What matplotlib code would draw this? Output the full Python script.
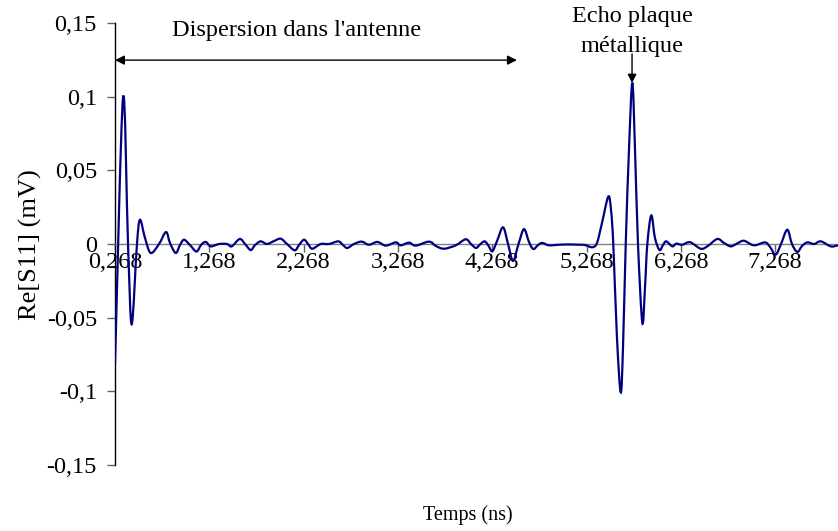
import matplotlib
matplotlib.use("Agg")
import matplotlib.pyplot as plt
from matplotlib.path import Path
from matplotlib.patches import PathPatch

# ---- data ----
time_ns = [0.268, 0.353, 0.406, 0.445, 0.501, 0.533, 0.586, 0.647, 0.735, 0.809,
           0.851, 0.912, 0.957, 1.000, 1.063, 1.132, 1.180, 1.230, 1.283, 1.371,
           1.456, 1.506, 1.590, 1.647, 1.707, 1.753, 1.813, 1.880, 1.954, 2.025,
           2.092, 2.174, 2.219, 2.272, 2.315, 2.360, 2.449, 2.537, 2.636, 2.686,
           2.731, 2.802, 2.884, 2.961, 3.050, 3.139, 3.245, 3.298, 3.386, 3.457,
           3.598, 3.672, 3.757, 3.881, 3.987, 4.043, 4.096, 4.139, 4.186, 4.224,
           4.269, 4.319, 4.383, 4.436, 4.489, 4.547, 4.605, 4.658, 4.704, 4.754,
           4.799, 4.870, 4.976, 5.082, 5.188, 5.252, 5.330, 5.379, 5.432, 5.499,
           5.528, 5.552, 5.591, 5.631, 5.655, 5.684, 5.719, 5.754, 5.782, 5.814,
           5.860, 5.888, 5.913, 5.955, 5.994, 6.042, 6.079, 6.114, 6.178, 6.220,
           6.284, 6.366, 6.479, 6.549, 6.655, 6.726, 6.797, 6.864, 6.938, 7.044,
           7.161, 7.214, 7.274, 7.331, 7.397, 7.447, 7.503, 7.553, 7.610, 7.681,
           7.752, 7.858, 7.924, 8.000]
re_s11 = [-0.0818, 0.0993, 0.0, -0.0545, 0.0, 0.0164, 0.0041, -0.0061, 0.0, 0.0081,
          0.0007, -0.0061, -0.0007, 0.0029, -0.0007, -0.0051, -0.0007, 0.0014, -0.0016, 0.0,
          0.0, -0.0016, 0.0034, 0.0, -0.0041, -0.0007, 0.0018, 0.0, 0.0020, 0.0036,
          0.0, -0.0043, -0.0007, 0.0029, 0.0, -0.0032, 0.0, 0.0, 0.0018, -0.0007,
          -0.0027, 0.0, 0.0016, -0.0005, 0.0014, -0.0011, 0.0011, -0.0009, 0.0009, -0.0011,
          0.0016, -0.0014, -0.0032, -0.0009, 0.0032, 0.0, -0.0027, -0.0003, 0.0018, -0.0007,
          -0.0049, 0.0020, 0.0113, 0.0, -0.0115, 0.0, 0.0101, 0.0014, -0.0034, -0.0007,
          0.0007, -0.0009, -0.0005, -0.0003, -0.0005, -0.0007, -0.0022, 0.0007, 0.0142, 0.0322,
          0.0230, 0.0, -0.0635, -0.1007, -0.0703, 0.0, 0.0649, 0.1095, 0.0649, 0.0,
          -0.0534, -0.0297, 0.0, 0.0194, 0.0041, -0.0041, -0.0007, 0.0018, -0.0016, 0.0002,
          -0.0005, 0.0012, -0.0032, -0.0016, 0.0034, 0.0007, -0.0016, 0.0003, 0.0022, -0.0009,
          0.0011, -0.0020, -0.0072, 0.0, 0.0097, 0.0, -0.0054, -0.0014, 0.0011, 0.0,
          0.0018, -0.0016, -0.0011, -0.0005]

x_ticks = [0.268, 1.268, 2.268, 3.268, 4.268, 5.268, 6.268, 7.268]
x_tick_labels = ["0,268", "1,268", "2,268", "3,268", "4,268", "5,268", "6,268", "7,268"]
y_ticks = [-0.15, -0.10, -0.05, 0.0, 0.05, 0.10, 0.15]
y_tick_labels = ["-0,15", "-0,1", "-0,05", "0", "0,05", "0,1", "0,15"]

plt.rcParams['font.family'] = ['Liberation Serif', 'DejaVu Serif']

fig = plt.figure(figsize=(8.38, 5.31), dpi=100)
ax = fig.add_axes([115 / 838, 66 / 531, 1 - 115 / 838, 442 / 531])


def smooth_path(xs, ys):
    """Smoothed (Catmull-Rom style) Bezier path through the data points,
    like a spreadsheet 'smoothed line'."""
    pts = list(zip(xs, ys))
    n = len(pts)
    verts = [pts[0]]
    codes = [Path.MOVETO]
    for i in range(n - 1):
        p0 = pts[i - 1] if i > 0 else pts[i]
        p1 = pts[i]
        p2 = pts[i + 1]
        p3 = pts[i + 2] if i + 2 < n else pts[i + 1]
        c1 = (p1[0] + (p2[0] - p0[0]) / 6, p1[1] + (p2[1] - p0[1]) / 6)
        c2 = (p2[0] - (p3[0] - p1[0]) / 6, p2[1] - (p3[1] - p1[1]) / 6)
        verts += [c1, c2, p2]
        codes += [Path.CURVE4] * 3
    return Path(verts, codes)


curve = PathPatch(smooth_path(time_ns, re_s11), facecolor='none',
                  edgecolor='#000080', lw=1.6, zorder=3,
                  transform=ax.transData)
ax.add_patch(curve)
ax.set_xlim(0.268, 7.935)
ax.set_ylim(-0.15, 0.15)

for s in ('top', 'right'):
    ax.spines[s].set_visible(False)
ax.spines['bottom'].set_position(('data', 0))
ax.spines['bottom'].set_color('#808080')
ax.spines['bottom'].set_linewidth(1.0)
ax.spines['left'].set_color('black')
ax.spines['left'].set_linewidth(1.0)

ax.set_xticks(x_ticks, x_tick_labels)
ax.set_yticks(y_ticks, y_tick_labels)
ax.tick_params(axis='x', direction='out', length=6, width=1, color='#606060',
               labelsize=17.5, pad=0)
ax.tick_params(axis='y', direction='out', length=6, width=1, color='#606060',
               labelsize=17.5, pad=7)

# annotations
ax.text(2.198, 0.1446, "Dispersion dans l'antenne", ha='center', va='center',
        fontsize=17.5)
ax.annotate('', xy=(0.268, 0.1248), xytext=(4.53, 0.1248),
            arrowprops=dict(arrowstyle='<|-|>', color='black', lw=1,
                            mutation_scale=14, shrinkA=0, shrinkB=0))
ax.text(5.751, 0.1541, "Echo plaque", ha='center', va='center', fontsize=17.5,
        clip_on=False)
ax.text(5.751, 0.1343, "métallique", ha='center', va='center', fontsize=17.5)
ax.annotate('', xy=(5.751, 0.1092), xytext=(5.751, 0.1290),
            arrowprops=dict(arrowstyle='-|>', color='black', lw=1,
                            mutation_scale=13, shrinkA=0, shrinkB=0))

fig.text(468 / 838, 1 - 515 / 531, "Temps (ns)", ha='center', va='center',
         fontsize=14.5)
fig.text(30 / 838, 1 - 245 / 531, "Re[S11] (mV)", ha='center', va='center',
         rotation=90, fontsize=19)

fig.savefig("out.png", dpi=100)
